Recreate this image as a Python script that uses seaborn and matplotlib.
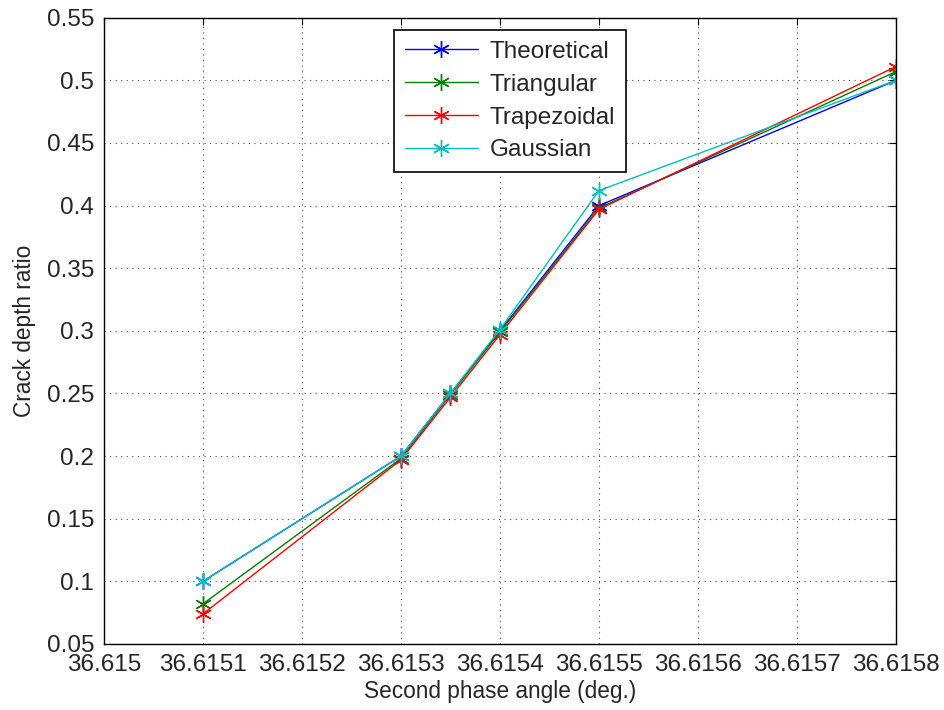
import matplotlib
matplotlib.use("Agg")
import matplotlib.pyplot as plt
import seaborn as sns
import pandas as pd

angles = [36.6151, 36.6153, 36.61535, 36.6154, 36.6155, 36.6158]
theoretical = [0.100, 0.200, 0.250, 0.300, 0.400, 0.500]
triangular = [0.082, 0.198, 0.249, 0.299, 0.398, 0.507]
trapezoidal = [0.074, 0.197, 0.247, 0.297, 0.397, 0.511]
gaussian = [0.100, 0.200, 0.250, 0.301, 0.412, 0.500]
series_names = ["Theoretical", "Triangular", "Trapezoidal", "Gaussian"]
xtick_vals = [36.615, 36.6151, 36.6152, 36.6153, 36.6154, 36.6155, 36.6156, 36.6157, 36.6158]
xtick_labels = ["36.615", "36.6151", "36.6152", "36.6153", "36.6154", "36.6155", "36.6156", "36.6157", "36.6158"]
ytick_vals = [0.05, 0.1, 0.15, 0.2, 0.25, 0.3, 0.35, 0.4, 0.45, 0.5, 0.55]
ytick_labels = ["0.05", "0.1", "0.15", "0.2", "0.25", "0.3", "0.35", "0.4", "0.45", "0.5", "0.55"]

sns.set_style("white")
plt.rcParams['font.family'] = ['Liberation Sans', 'DejaVu Sans']

rows = []
for name, vals in zip(series_names, [theoretical, triangular, trapezoidal, gaussian]):
    for a, v in zip(angles, vals):
        rows.append({"angle": a, "ratio": v, "series": name})
df = pd.DataFrame(rows)

palette = {"Theoretical": (0, 0, 1), "Triangular": (0, 0.5, 0),
           "Trapezoidal": (1, 0, 0), "Gaussian": (0, 0.75, 0.75)}

fig = plt.figure(figsize=(9.45, 7.1), dpi=100)
ax = fig.add_axes([0.110, 0.093, 0.838, 0.882])

sns.lineplot(data=df, x="angle", y="ratio", hue="series", hue_order=series_names,
             palette=palette, marker=(6, 2, 0), markersize=12, markeredgewidth=1.0,
             linewidth=1.0, ax=ax, estimator=None, sort=False, legend=False)

for line in ax.lines:
    c = line.get_color()
    line.set_markeredgecolor(c)
    line.set_markerfacecolor(c)

ax.set_xlim(36.615, 36.6158)
ax.set_ylim(0.05, 0.55)
ax.set_xticks(xtick_vals)
ax.set_xticklabels(xtick_labels)
ax.set_yticks(ytick_vals)
ax.set_yticklabels(ytick_labels)
ax.tick_params(direction="in", length=5, width=0.8, labelsize=17.5, top=True, right=True,
               color="black", pad=7)
ax.grid(True, linestyle=(0, (1, 4)), color="black", linewidth=0.8, alpha=0.7)
for s in ax.spines.values():
    s.set_color("black")
    s.set_linewidth(1.0)
ax.set_xlabel("Second phase angle (deg.)", fontsize=16.3, labelpad=3)
ax.set_ylabel("Crack depth ratio", fontsize=16.3, labelpad=8)

leg = ax.legend(ax.lines[:4], series_names, loc="upper center", bbox_to_anchor=(0.513, 0.981),
                fontsize=17.5, frameon=True, fancybox=False, edgecolor="black",
                handlelength=3.0, borderpad=0.45, labelspacing=0.45, handletextpad=0.5,
                framealpha=1, borderaxespad=0.0)
leg.get_frame().set_linewidth(1.2)

fig.savefig("out.png", dpi=100)
